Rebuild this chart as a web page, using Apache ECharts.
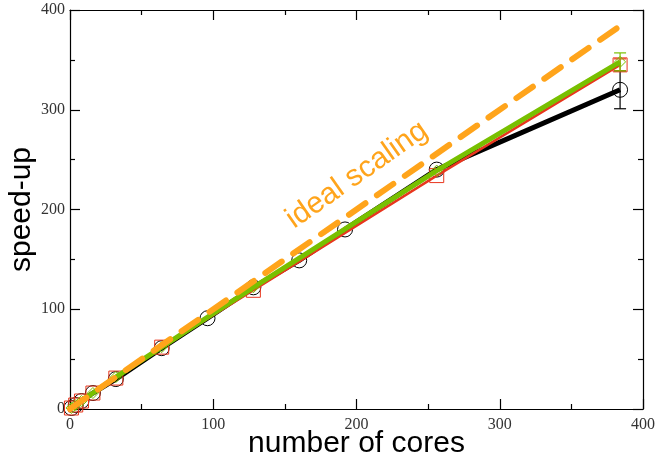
<!DOCTYPE html>
<html>
<head>
<meta charset="utf-8">
<script src="https://cdn.jsdelivr.net/npm/echarts@6/dist/echarts.min.js"></script>
<style>
  html, body { margin: 0; padding: 0; background: #fff; }
  #chart { width: 655px; height: 462px; }
</style>
</head>
<body>
<div id="chart"></div>
<script>
  // cores measured for the black run (includes non power-of-two counts)
  const coresAll = [1, 4, 8, 16, 32, 64, 96, 128, 160, 192, 256, 384]
  const speedBlack = [1, 4, 8, 16, 30, 61, 91, 122, 149, 180, 240, 320]
  const errBlack = [0, 0, 0, 0, 0, 0, 0, 0, 0, 0, 0, 19]

  // red and green runs only at these counts
  const coresPow = [1, 4, 8, 16, 32, 64, 128, 256, 384]
  const speedRed = [1, 4, 8, 16, 31, 62, 119, 234, 345]
  const errRed = [0, 0, 0, 0, 0, 0, 0, 0, 6]
  const speedGreen = [1, 4, 8, 16, 32, 62, 122, 239, 348]
  const errGreen = [0, 0, 0, 0, 0, 0, 0, 0, 9]

  const idealX = [0, 384]
  const idealY = [0, 384]

  const pairs = (xs, ys) => xs.map((x, i) => [x, ys[i]])
  const errData = (xs, ys, es) =>
    xs.map((x, i) => [x, ys[i] - es[i], ys[i] + es[i]]).filter((d, i) => es[i] > 0)

  function errorSeries(data, color, z) {
    return {
      type: "custom",
      z: z,
      data: data,
      renderItem: function (params, api) {
        const lo = api.coord([api.value(0), api.value(1)])
        const hi = api.coord([api.value(0), api.value(2)])
        const w = 6
        const st = { stroke: color, lineWidth: 1.2 }
        return {
          type: "group",
          children: [
            { type: "line", shape: { x1: lo[0], y1: lo[1], x2: hi[0], y2: hi[1] }, style: st },
            { type: "line", shape: { x1: lo[0] - w, y1: lo[1], x2: lo[0] + w, y2: lo[1] }, style: st },
            { type: "line", shape: { x1: hi[0] - w, y1: hi[1], x2: hi[0] + w, y2: hi[1] }, style: st },
          ],
        }
      },
    }
  }

  const tickFont = { fontFamily: "Liberation Serif", fontSize: 16, color: "#333" }
  const axisCommon = {
    type: "value",
    min: 0,
    max: 400,
    interval: 100,
    splitLine: { show: false },
    axisLine: { show: true, onZero: false, lineStyle: { color: "#000", width: 1.2 } },
    axisTick: { show: true, inside: true, length: 10, lineStyle: { color: "#000", width: 1.2 } },
    minorTick: { show: true, splitNumber: 2, length: 5, lineStyle: { color: "#000", width: 1.2 } },
  }

  const option = {
    backgroundColor: "#fff",
    animation: false,
    grid: { left: 70, right: 12, top: 10, bottom: 53, outerBoundsMode: "none", containLabel: false },
    xAxis: [
      {
        ...axisCommon,
        position: "bottom",
        name: "number of cores",
        nameLocation: "middle",
        nameGap: 20,
        nameMoveOverlap: false,
        nameTextStyle: { fontFamily: "Liberation Sans", fontSize: 30, color: "#000" },
        axisLabel: { ...tickFont, margin: 8 },
      },
      { ...axisCommon, position: "top", axisLabel: { show: false } },
    ],
    yAxis: [
      {
        ...axisCommon,
        position: "left",
        name: "speed-up",
        nameLocation: "middle",
        nameGap: 33,
        nameMoveOverlap: false,
        nameTextStyle: { fontFamily: "Liberation Sans", fontSize: 30, color: "#000" },
        axisLabel: { ...tickFont, margin: 5 },
      },
      { ...axisCommon, position: "right", axisLabel: { show: false } },
    ],
    graphic: [
      {
        type: "text",
        x: 357,
        y: 175,
        rotation: (35 * Math.PI) / 180,
        z: 100,
        style: {
          text: "ideal scaling",
          fill: "#ffa41b",
          font: "30px 'Liberation Sans'",
          align: "center",
          verticalAlign: "middle",
        },
      },
    ],
    series: [
      {
        type: "line",
        z: 2,
        data: pairs(coresAll, speedBlack),
        symbol: "circle",
        symbolSize: 15,
        lineStyle: { color: "#000", width: 5 },
        itemStyle: { color: "transparent", borderColor: "#000", borderWidth: 1 },
      },
      errorSeries(errData(coresAll, speedBlack, errBlack), "#000", 2),
      {
        type: "line",
        z: 3,
        data: pairs(coresPow, speedRed),
        symbol: "rect",
        symbolSize: 14,
        lineStyle: { color: "#e8361e", width: 2.5 },
        itemStyle: { color: "transparent", borderColor: "#e8361e", borderWidth: 1 },
      },
      errorSeries(errData(coresPow, speedRed, errRed), "#e8361e", 3),
      {
        type: "line",
        z: 4,
        data: pairs(coresPow, speedGreen),
        symbol: "diamond",
        symbolSize: 11,
        lineStyle: { color: "#78c000", width: 5 },
        itemStyle: { color: "transparent", borderColor: "#78c000", borderWidth: 1 },
      },
      errorSeries(errData(coresPow, speedGreen, errGreen), "#78c000", 4),
      {
        type: "line",
        z: 5,
        data: pairs(idealX, idealY),
        symbol: "none",
        lineStyle: { color: "#ffa41b", width: 6, type: [20, 14], cap: "round" },
      },
    ],
  }

  const myChart = echarts.init(document.getElementById("chart"))
  myChart.setOption(option)
</script>
</body>
</html>
